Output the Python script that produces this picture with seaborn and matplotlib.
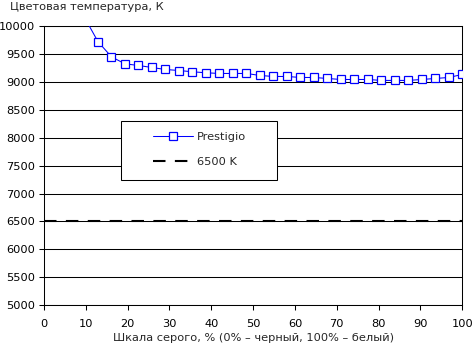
import numpy as np
import pandas as pd
import matplotlib
matplotlib.use("Agg")
import matplotlib.pyplot as plt
from matplotlib.patches import Rectangle
import seaborn as sns

# ---- data ----
steps = list(range(3, 32))  # grey levels k*100/31
gray_pct = [k * 100 / 31 for k in steps]
prestigio_K = [10160, 9725, 9452, 9327, 9297, 9261, 9225, 9207, 9184, 9166,
               9154, 9154, 9154, 9118, 9100, 9100, 9082, 9082, 9064, 9046,
               9046, 9046, 9029, 9029, 9029, 9046, 9064, 9082, 9136]
ref_x = [0, 100]
ref_K = [6500, 6500]
x_ticks = list(range(0, 101, 10))
y_ticks = list(range(5000, 10001, 500))
title = "Цветовая температура, К"
xlabel = "Шкала серого, % (0% – черный, 100% – белый)"
series_label = "Prestigio"
ref_label = "6500 K"

FS = 8.2

sns.set_style("ticks")
plt.rcParams["font.family"] = ["DejaVu Sans"]
plt.rcParams["font.size"] = FS

fig = plt.figure(figsize=(4.72, 3.49), dpi=100)
ax = fig.add_axes([44 / 472, 1 - 305 / 349, 418.3 / 472, 278.7 / 349])

df = pd.DataFrame({"x": gray_pct, "y": prestigio_K})
sns.lineplot(data=df, x="x", y="y", ax=ax, color="#0000FF", lw=0.75,
             marker="s", markersize=5.3, markerfacecolor="white",
             markeredgecolor="#0000FF", markeredgewidth=0.9,
             label=series_label, zorder=3)
sns.lineplot(x=ref_x, y=ref_K, ax=ax, color="black", lw=1.5,
             linestyle=(0, (6, 4.5)), label=ref_label, zorder=2.5)

ax.set_xlim(0, 100)
ax.set_ylim(5000, 10000)
ax.set_xticks(x_ticks)
ax.set_yticks(y_ticks)
ax.set_xlabel(xlabel, fontsize=FS, labelpad=3.0)
ax.set_ylabel("")
ax.tick_params(axis="both", direction="out", length=3.5, width=0.75,
               color="black", labelsize=FS, labelcolor="black")
ax.tick_params(axis="x", pad=6.8)
ax.tick_params(axis="y", pad=2.8)
ax.yaxis.grid(True, color="black", lw=0.75)
ax.xaxis.grid(False)
ax.set_axisbelow(True)
for s in ax.spines.values():
    s.set_visible(True)
    s.set_color("black")
    s.set_linewidth(0.75)

fig.text(10 / 472, 1 - 7.5 / 349, title, ha="left", va="center", fontsize=FS)

# legend box
ax.add_patch(Rectangle((0.184, 0.4485), 0.373, 0.2115, transform=ax.transAxes,
                       facecolor="white", edgecolor="black", lw=0.75,
                       zorder=4))
leg = ax.legend(loc="center left", bbox_to_anchor=(0.2606, 0.558),
                frameon=False, borderpad=0, borderaxespad=0,
                handlelength=3.5, handletextpad=0.35, labelspacing=1.25,
                fontsize=FS)
leg.set_zorder(5)

fig.savefig("out.png", dpi=100)
